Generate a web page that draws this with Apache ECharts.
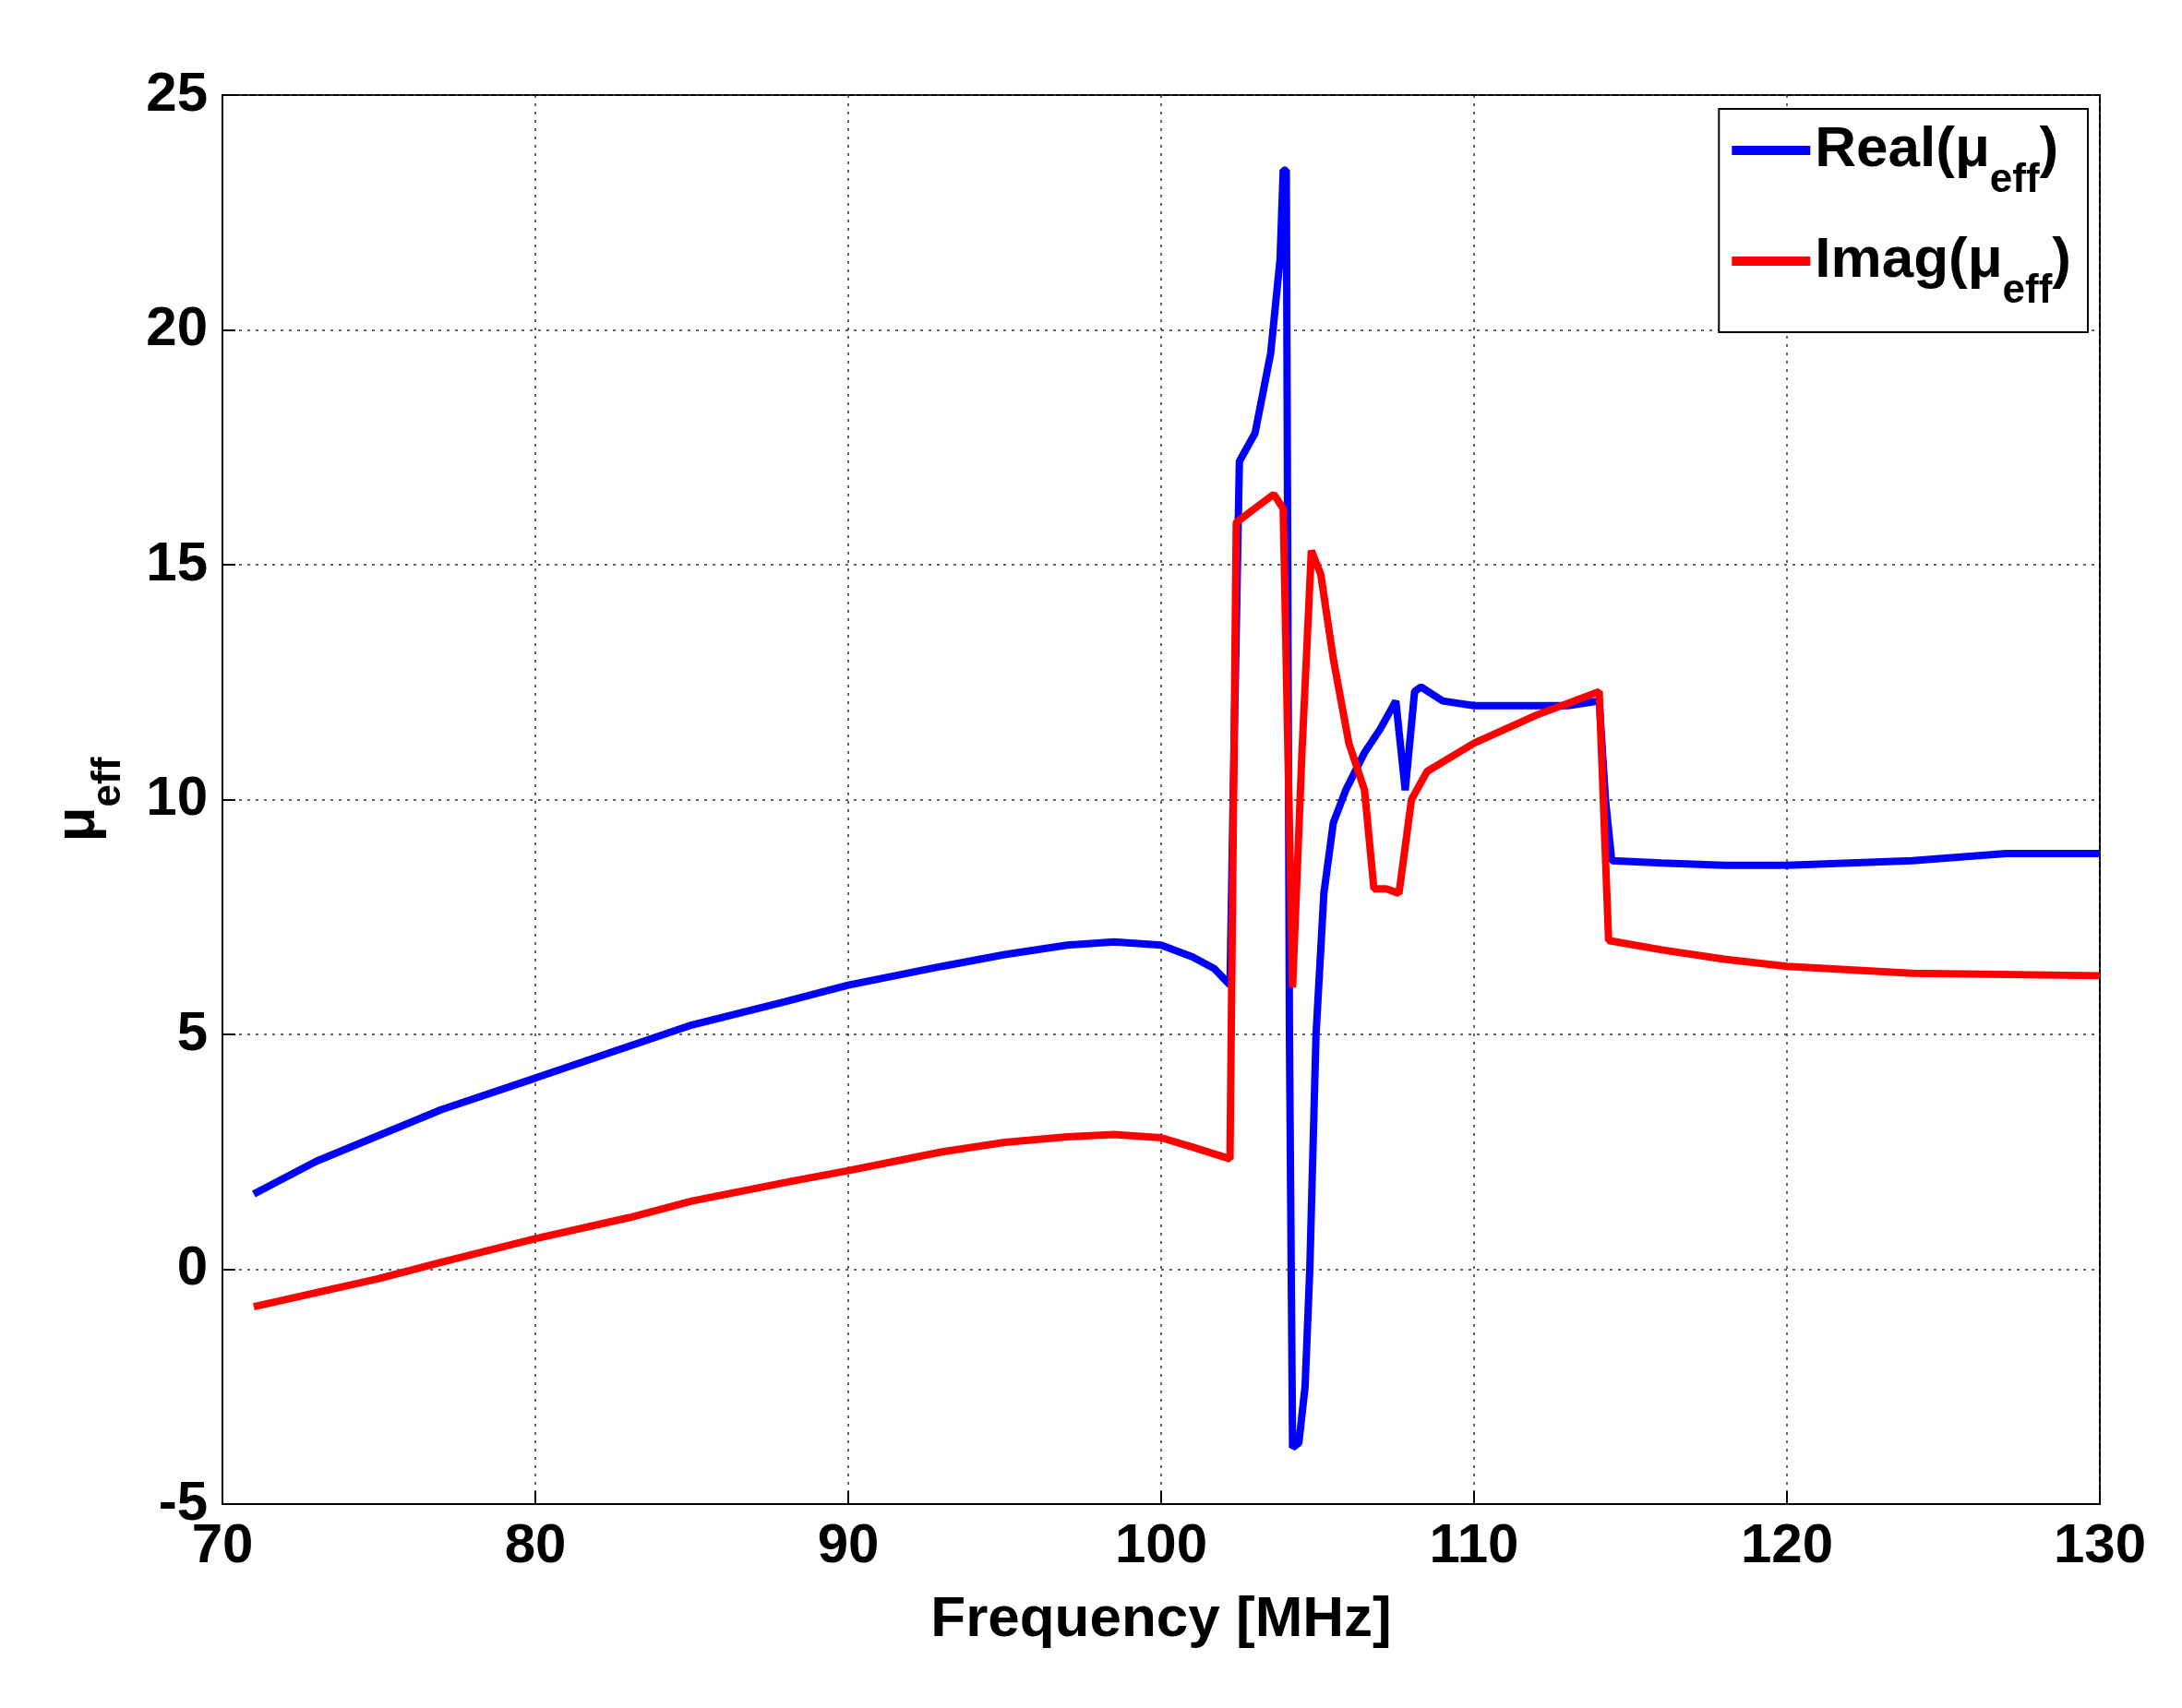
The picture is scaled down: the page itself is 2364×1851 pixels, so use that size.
<!DOCTYPE html>
<html><head><meta charset="utf-8">
<script src="https://cdn.jsdelivr.net/npm/echarts@6/dist/echarts.min.js"></script>
<style>html,body{margin:0;background:#fff}#c{width:2364px;height:1851px}</style>
</head><body><div id="c"></div>
<script>
const realX = [71,73,75,77,80,83,85,88,90,93,95,97,98.5,100,101,101.7,102.2,102.3,102.5,103,103.5,103.8,103.9,104.0,104.1,104.2,104.4,104.6,104.75,104.95,105.2,105.5,105.9,106.5,107,107.5,107.8,108.1,108.3,109,110,113,114,114.2,114.4,116,118,120,124,127,130];
const realY = [1.6,2.3,2.85,3.4,4.07,4.75,5.2,5.7,6.05,6.45,6.7,6.9,6.97,6.9,6.65,6.4,6.05,10,17.2,17.8,19.5,21.5,23.4,23.4,5,-3.8,-3.7,-2.5,0,5,8,9.5,10.2,11,11.5,12.1,10.2,12.3,12.4,12.1,12,12,12.1,10,8.7,8.65,8.6,8.6,8.7,8.85,8.85];
const imagX = [71,73,75,77,80,83,85,88,90,93,95,97,98.5,100,101,102.2,102.4,103,103.6,103.9,104.2,104.5,104.8,105.1,105.5,106,106.5,106.8,107.2,107.6,108,108.5,110,112,114,114.3,116,118,120,124,130];
const imagY = [-0.8,-0.5,-0.2,0.15,0.65,1.1,1.45,1.85,2.1,2.5,2.7,2.82,2.87,2.8,2.6,2.35,15.9,16.2,16.5,16.2,6,11,15.3,14.8,13,11.2,10.2,8.1,8.1,8.0,10,10.6,11.2,11.8,12.3,7,6.8,6.6,6.45,6.3,6.25];
const zip=(a,b)=>a.map((v,i)=>[v,b[i]]);
const F='"Liberation Sans", Arial, sans-serif';
const chart=echarts.init(document.getElementById('c'));
const rich={b:{fontFamily:F,fontWeight:'bold',fontSize:62,color:'#000'},s:{fontFamily:F,fontWeight:'bold',fontSize:44,color:'#000',verticalAlign:'bottom',padding:[0,0,-24,0]}};
chart.setOption({
  animation:false,
  grid:{left:241,right:89,top:103,bottom:221,show:true,borderColor:'#000',borderWidth:2,backgroundColor:'#fff'},
  legend:{right:102,top:118,orient:'vertical',backgroundColor:'#fff',borderColor:'#000',borderWidth:2,padding:[14,18,22,14],itemGap:34,itemWidth:85,itemHeight:10,
    icon:'rect',
    formatter:n=>n==='Real'?'{b|Real(μ}{s|eff}{b|)}':'{b|Imag(μ}{s|eff}{b|)}',
    textStyle:{rich:rich}},
  xAxis:{type:'value',min:70,max:130,interval:10,
    name:'Frequency [MHz]',nameLocation:'middle',nameGap:95,
    nameTextStyle:{fontFamily:F,fontWeight:'bold',fontSize:62,color:'#000'},
    axisLine:{onZero:false,lineStyle:{color:'#000',width:2}},
    axisTick:{inside:true,length:14,lineStyle:{color:'#000',width:2}},
    axisLabel:{fontFamily:F,fontWeight:'bold',fontSize:60,color:'#000',margin:16},
    splitLine:{lineStyle:{color:'#333',type:[3,6],width:1.5}}},
  yAxis:{type:'value',min:-5,max:25,interval:5,
    name:'{b|μ}{s|eff}',nameLocation:'middle',nameGap:125,nameRotate:90,
    nameTextStyle:{rich:rich},
    axisLine:{onZero:false,lineStyle:{color:'#000',width:2}},
    axisTick:{inside:true,length:14,lineStyle:{color:'#000',width:2}},
    axisLabel:{fontFamily:F,fontWeight:'bold',fontSize:60,color:'#000',margin:16},
    splitLine:{lineStyle:{color:'#333',type:[3,6],width:1.5}}},
  series:[
    {name:'Real',type:'line',data:zip(realX,realY),showSymbol:false,lineStyle:{color:'#0000ff',width:8},itemStyle:{color:'#0000ff'}},
    {name:'Imag',type:'line',data:zip(imagX,imagY),showSymbol:false,lineStyle:{color:'#ff0000',width:8},itemStyle:{color:'#ff0000'}}
  ]
});
</script></body></html>
